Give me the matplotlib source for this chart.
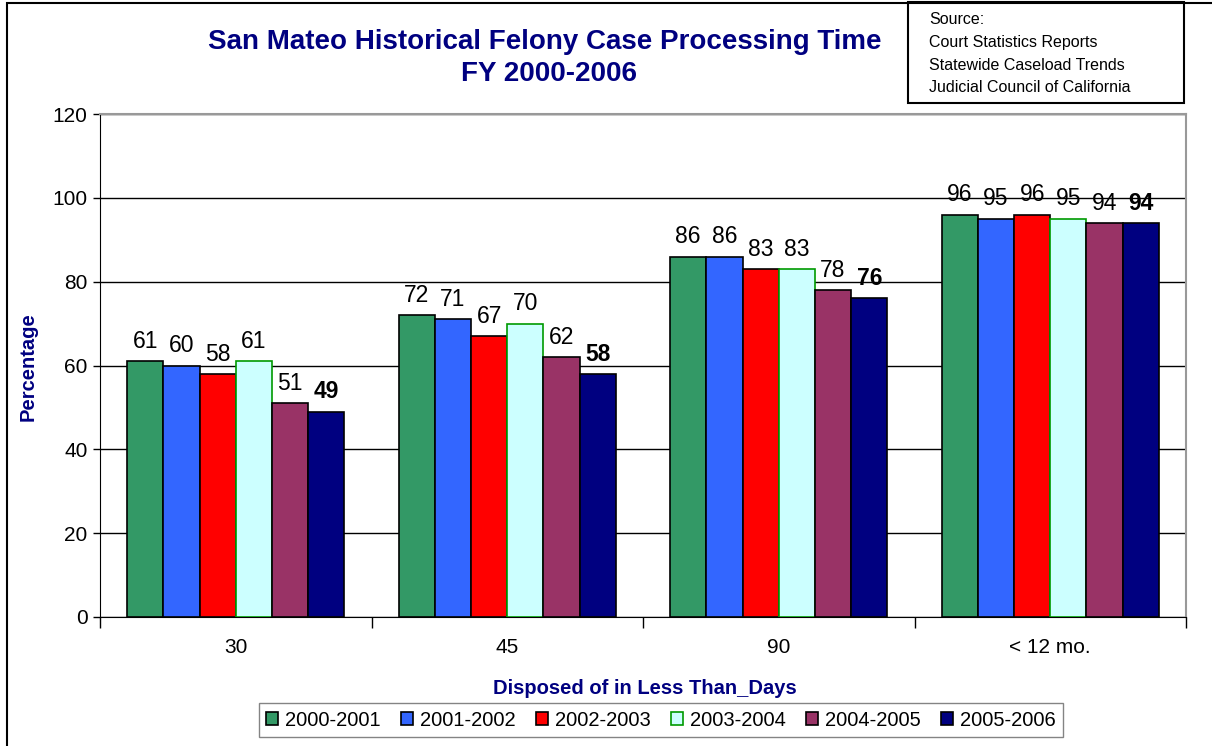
import numpy as np
import matplotlib.pyplot as plt
from matplotlib.patches import Rectangle

plt.rcParams['font.family'] = ['Liberation Sans', 'DejaVu Sans']

# data
categories = ['30', '45', '90', '< 12 mo.']
years = ['2000-2001', '2001-2002', '2002-2003', '2003-2004', '2004-2005', '2005-2006']
v_2000 = [61, 72, 86, 96]
v_2001 = [60, 71, 86, 95]
v_2002 = [58, 67, 83, 96]
v_2003 = [61, 70, 83, 95]
v_2004 = [51, 62, 78, 94]
v_2005 = [49, 58, 76, 94]
series = [v_2000, v_2001, v_2002, v_2003, v_2004, v_2005]

colors = ['#339966', '#3366FF', '#FF0000', '#CCFFFF', '#993366', '#000080']
edges = ['black', 'black', 'black', '#009900', 'black', 'black']
navy = '#000080'

fig = plt.figure(figsize=(12.12, 7.46), dpi=100)
ax = fig.add_axes([100 / 1212, 129 / 746, 1086 / 1212, 503 / 746])

x = np.arange(len(categories))
w = 0.8 / len(series)
for i, (vals, lab) in enumerate(zip(series, years)):
    pos = x - 0.4 + w * (i + 0.5)
    ax.bar(pos, vals, w, color=colors[i], edgecolor=edges[i], linewidth=1.2,
           label=lab, zorder=3)
    for p, v in zip(pos, vals):
        ax.annotate(str(v), (p, v), xytext=(0, 6), textcoords='offset points',
                    ha='center', va='bottom', fontsize=16.5,
                    fontweight='bold' if i == len(series) - 1 else 'normal')

ax.set_xlim(-0.5, len(categories) - 0.5)
ax.set_ylim(0, 120)
ax.set_yticks(range(0, 121, 20))
ax.set_xticks(x)
ax.set_xticklabels(categories)
ax.set_xticks(np.arange(-0.5, len(categories), 1), minor=True)
ax.tick_params(axis='x', which='major', length=0, pad=15, labelsize=15)
ax.tick_params(axis='x', which='minor', length=8, width=1, direction='out')
ax.tick_params(axis='y', length=5, width=1, labelsize=15, pad=4)
ax.yaxis.grid(True, color='black', linewidth=1, zorder=0)
ax.set_axisbelow(True)
for s in ['top', 'right']:
    ax.spines[s].set_color('#999999')
    ax.spines[s].set_linewidth(1.5)

# axis titles
fig.text(28 / 1212, 1 - 367 / 746, 'Percentage', rotation=90, ha='center',
         va='center', fontsize=14.5, fontweight='bold', color=navy)
fig.text(645 / 1212, 1 - 688 / 746, 'Disposed of in Less Than_Days', ha='center',
         va='center', fontsize=14.5, fontweight='bold', color=navy)

fig.text(545 / 1212, 1 - 42 / 746, 'San Mateo Historical Felony Case Processing Time',
         ha='center', va='center', fontsize=20, fontweight='bold', color=navy)
fig.text(549 / 1212, 1 - 74 / 746, 'FY 2000-2006', ha='center', va='center',
         fontsize=20, fontweight='bold', color=navy)

# source box
fig.patches.append(Rectangle((908 / 1212, 1 - 103 / 746), 276 / 1212, 101 / 746,
                             transform=fig.transFigure, fill=False,
                             edgecolor='black', linewidth=1.5))
src = ['Source:', 'Court Statistics Reports', 'Statewide Caseload Trends',
       'Judicial Council of California']
for k, line in enumerate(src):
    fig.text(929 / 1212, 1 - (20 + 22.5 * k) / 746, line, ha='left', va='center',
             fontsize=11.5)

# outer border
fig.patches.append(Rectangle((7 / 1212, -0.1), 1.2, 1.1 - 3 / 746,
                             transform=fig.transFigure, fill=False,
                             edgecolor='black', linewidth=1.5))

leg = ax.legend(loc='center', bbox_to_anchor=(661 / 1212, 1 - 720 / 746),
                bbox_transform=fig.transFigure, ncol=6, fontsize=14.5,
                frameon=True, fancybox=False, edgecolor='#666666',
                handlelength=0.6, handleheight=0.6, handletextpad=0.35,
                columnspacing=1.0, borderpad=0.35)
leg.get_frame().set_linewidth(1)

fig.savefig('out.png', dpi=100)
